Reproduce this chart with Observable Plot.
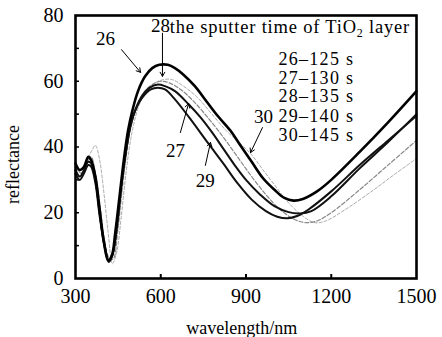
<!DOCTYPE html>
<html><head><meta charset="utf-8">
<script src="https://cdn.jsdelivr.net/npm/d3@7"></script>
<script src="https://cdn.jsdelivr.net/npm/@observablehq/plot@0.6"></script>
<style>body{margin:0;background:#fff} svg{display:block} svg text{font-family:"Liberation Serif", serif !important}</style>
</head><body><div id="chart"></div>
<script>
// wavelength (nm), reflectance (%)
const s26 = [[300,35],[315,33],[330,34],[345,37],[355,36],[370,31],[385,21],[400,11],[415,5.5],[428,7],[440,14],[455,25],[470,36],[485,45],[500,51],[520,57],[545,61.5],[570,64],[595,65],[625,65],[650,64],[680,62],[720,58.5],[760,54],[800,49.5],[845,45],[880,40.5],[920,35.5],[960,30.5],[1000,27],[1035,24.5],[1067,23.7],[1100,24.2],[1150,26.5],[1200,30],[1300,38.5],[1400,47.5],[1500,57]];
const s27 = [[300,33],[315,31],[330,33],[345,35.5],[355,35],[370,30],[385,20],[400,11],[417,5],[430,7],[445,15],[460,27],[475,37],[490,45],[505,50],[530,55],[560,58],[590,59],[615,58.5],[650,57],[698,53],[740,49],[780,44.5],[820,39.5],[860,34.5],[900,30],[950,25.5],[1000,22],[1050,20.2],[1090,19.8],[1130,20.5],[1200,25],[1300,33.5],[1400,41.5],[1500,50]];
const s28 = [[300,34],[320,32],[340,35],[355,37],[370,32],[385,23],[400,13],[420,6],[433,6],[448,14],[463,26],[478,37],[495,46],[515,52],[540,56.5],[570,59],[600,60],[630,59.5],[670,57.5],[720,53.5],[770,48.5],[820,43],[870,37],[920,31],[970,25.5],[1020,21],[1070,18],[1110,17],[1150,17.5],[1200,20],[1300,27],[1400,34.5],[1500,42]];
const s29 = [[300,32],[315,30],[330,32],[345,34.5],[355,34],[370,29],[385,19],[402,10],[418,5.5],[432,8],[447,17],[462,29],[478,39],[492,46],[510,51],[535,55],[565,57.5],[590,58],[615,57.5],[650,54.5],[700,49],[768,41],[820,35],[870,29],[920,24],[970,20.5],[1010,18.8],[1046,18.3],[1080,19],[1120,21],[1200,26.5],[1300,34.5],[1400,42],[1500,49.5]];
const s30 = [[300,33],[320,33],[340,36],[358,39],[370,40.5],[385,36],[400,26],[415,14],[430,4.5],[445,8],[460,18],[475,30],[490,40],[505,47],[525,53],[550,57],[580,59.5],[610,60.5],[640,60.5],[680,58.5],[730,55],[780,50],[830,45],[880,41],[916,38],[960,33],[1000,28.5],[1050,23],[1100,19],[1140,17],[1180,17.5],[1250,21],[1350,27],[1420,31.5],[1500,36.5]];

const xTicks = [300,600,900,1200,1500];
const yTicks = [0,20,40,60,80];
const legendLines = ["26–125 s","27–130 s","28–135 s","29–140 s","30–145 s"];
const legendTitle = "the sputter time of TiO2 layer";
const xLabel = "wavelength/nm";
const yLabel = "reflectance";

const FONT = "'Liberation Serif', serif";
const toRows = (s, id) => s.map(([x,y]) => ({x, y, id}));
const rows = [...toRows(s30,"30"), ...toRows(s28,"28"), ...toRows(s29,"29"), ...toRows(s27,"27"), ...toRows(s26,"26")];
const style = {
  "26": {stroke:"#000", w:2.6, dash:null},
  "27": {stroke:"#111", w:2, dash:null},
  "29": {stroke:"#111", w:2, dash:null},
  "28": {stroke:"#888", w:1.2, dash:"4,2"},
  "30": {stroke:"#aaa", w:1, dash:"3,2"}
};
const lineMarks = ["30","28","29","27","26"].map(id =>
  Plot.line(rows.filter(d => d.id === id), {x:"x", y:"y", stroke: style[id].stroke, strokeWidth: style[id].w, strokeDasharray: style[id].dash, curve:"catmull-rom"}));

// annotation labels (data coords)
const labels = [
  {x:406, y:73, t:"26"},
  {x:599, y:76.8, t:"28"},
  {x:652, y:38.9, t:"27"},
  {x:757, y:29.8, t:"29"},
  {x:962, y:49.3, t:"30"}
];
const arrows = [
  {x1:462, y1:69.6, x2:529, y2:62.7},
  {x1:606, y1:74.6, x2:606, y2:61.5},
  {x1:669, y1:44.4, x2:698, y2:53.2},
  {x1:757, y1:34.4, x2:775, y2:41.4},
  {x1:958, y1:45.9, x2:916, y2:38.3}
];
const legendY = [66.6, 61.0, 55.4, 49.5, 43.5];
const legendRows = legendLines.map((t,i) => ({x:1014, y:legendY[i], t}));

const chart = Plot.plot({
  width:442, height:337,
  marginLeft:75, marginRight:26, marginTop:15, marginBottom:59,
  style:{fontFamily:FONT, fontSize:"20px", color:"#000", background:"#fff"},
  x:{domain:[300,1500]},
  y:{domain:[0,80]},
  marks:[
    Plot.axisX({ticks:xTicks, tickFormat:d=>String(d), tickSize:0, tickPadding:10, label:null, fontSize:20, fontFamily:FONT}),
    Plot.axisX({ticks:[600,900,1200], tickSize:-4, text:null, label:null, strokeWidth:2}),
    Plot.axisY({ticks:yTicks, tickFormat:d=>String(d), tickSize:0, tickPadding:12, label:null, fontSize:20, fontFamily:FONT}),
    Plot.axisY({ticks:d3.range(10,80,10), tickSize:-4, text:null, label:null, strokeWidth:1.5}),
    ...lineMarks,
    Plot.arrow(arrows, {x1:"x1", y1:"y1", x2:"x2", y2:"y2", stroke:"#000", strokeWidth:1, headLength:7}),
    Plot.text(labels, {x:"x", y:"y", text:"t", fontSize:19, fill:"#000", fontFamily:FONT}),
    Plot.text([legendTitle], {x:[632], y:[76.6], text:d=>d, textAnchor:"start", fontSize:18.5, fill:"#000", fontFamily:FONT}),
    Plot.text(legendRows, {x:"x", y:"y", text:"t", textAnchor:"start", fontSize:18, fill:"#000", fontFamily:FONT}),
    Plot.text([yLabel], {x:[80], y:[34.7], rotate:-90, text:d=>d, fontSize:18, fill:"#000", fontFamily:FONT}),
    Plot.text([xLabel], {x:[885], y:[-15.2], text:d=>d, fontSize:18, fill:"#000", fontFamily:FONT}),
    Plot.frame({stroke:"#000", strokeWidth:2.6})
  ]
});
document.getElementById("chart").appendChild(chart);
chart.querySelectorAll("text").forEach(el => {
  el.style.fontFamily = "'Liberation Serif', serif";
  el.style.fontVariant = "normal";
  el.style.fontVariantNumeric = "normal";
  if (el.textContent === legendTitle) {
    el.innerHTML = 'the sputter time of TiO<tspan dy="4" font-size="12">2</tspan><tspan dy="-4"> layer</tspan>';
    el.style.letterSpacing = "0.8px";
  }
  if (legendLines.includes(el.textContent)) {
    el.style.letterSpacing = "1.3px";
  }
});
</script>
</body></html>
